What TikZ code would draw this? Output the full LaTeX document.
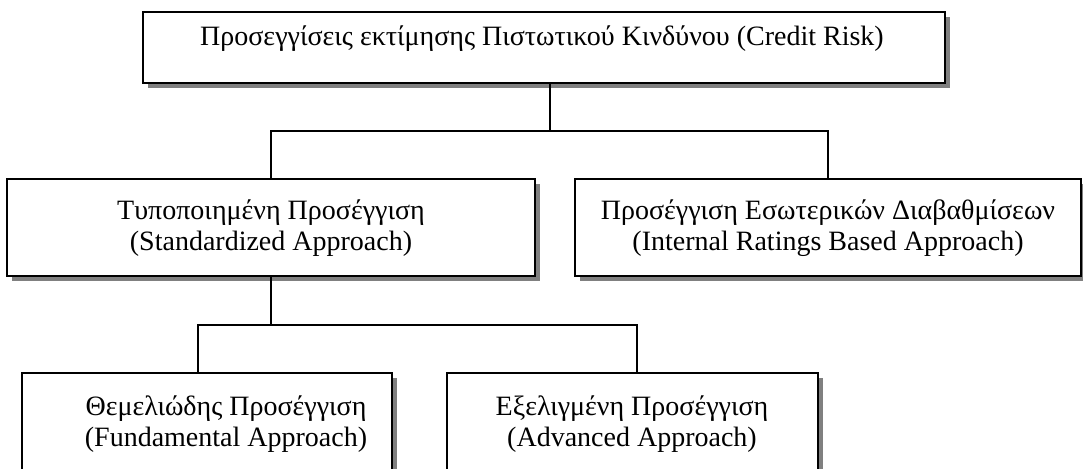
\documentclass[tikz,border=0pt]{standalone}
\usepackage{fontspec}
\setmainfont{Liberation Serif}
\usetikzlibrary{shadows}
\begin{document}
\begin{tikzpicture}[x=1pt,y=-1pt,
  box/.style={draw=black, line width=1.5pt, fill=white, rectangle, inner sep=0pt,
    drop shadow={shadow xshift=5pt, shadow yshift=-5pt, fill=black!50, opacity=1}},
  link/.style={draw=black, line width=1.5pt},
  caption/.style={font=\fontsize{28}{31}\selectfont, align=center, inner sep=0pt}]
  \useasboundingbox (0,0) rectangle (1083,468);
  \clip (0,0) rectangle (1083,468);
  \fill[white] (0,0) rectangle (1083,468);

  % boxes
  \node[box, minimum width=802pt, minimum height=71pt]  (top)  at (544,47.5) {};
  \node[box, minimum width=528pt, minimum height=97pt]  (midL) at (271,227.5) {};
  \node[box, minimum width=506pt, minimum height=97pt]  (midR) at (828,227.5) {};
  \node[box, minimum width=370pt, minimum height=127pt] (botL) at (207,436.5) {};
  \node[box, minimum width=371pt, minimum height=127pt] (botR) at (632.5,436.5) {};

  % captions
  \node[caption] (topT)  at (542,39) {Προσεγγίσεις εκτίμησης Πιστωτικού Κινδύνου (Credit Risk)};
  \node[caption] (midLT) at (271,228) {Τυποποιημένη Προσέγγιση\\(Standardized Approach)};
  \node[caption] (midRT) at (828,228) {Προσέγγιση Εσωτερικών Διαβαθμίσεων\\(Internal Ratings Based Approach)};
  \node[caption] (botLT) at (226,424) {Θεμελιώδης Προσέγγιση\\(Fundamental Approach)};
  \node[caption] (botRT) at (632,424) {Εξελιγμένη Προσέγγιση\\(Advanced Approach)};

  % junctions
  \coordinate (j1) at (550,131);
  \coordinate (j2) at (198,325);
  \coordinate (j3) at (637,325);

  % first level
  \draw[link] (top.south -| j1) -- (j1);
  \draw[link] (midL.north) -- (midL.north |- j1) -- (midR.north |- j1) -- (midR.north);

  % second level
  \draw[link] (midL.south) -- (midL.south |- j2);
  \draw[link] (j2 |- botL.north) -- (j2) -- (j3) -- (j3 |- botR.north);
\end{tikzpicture}
\end{document}
